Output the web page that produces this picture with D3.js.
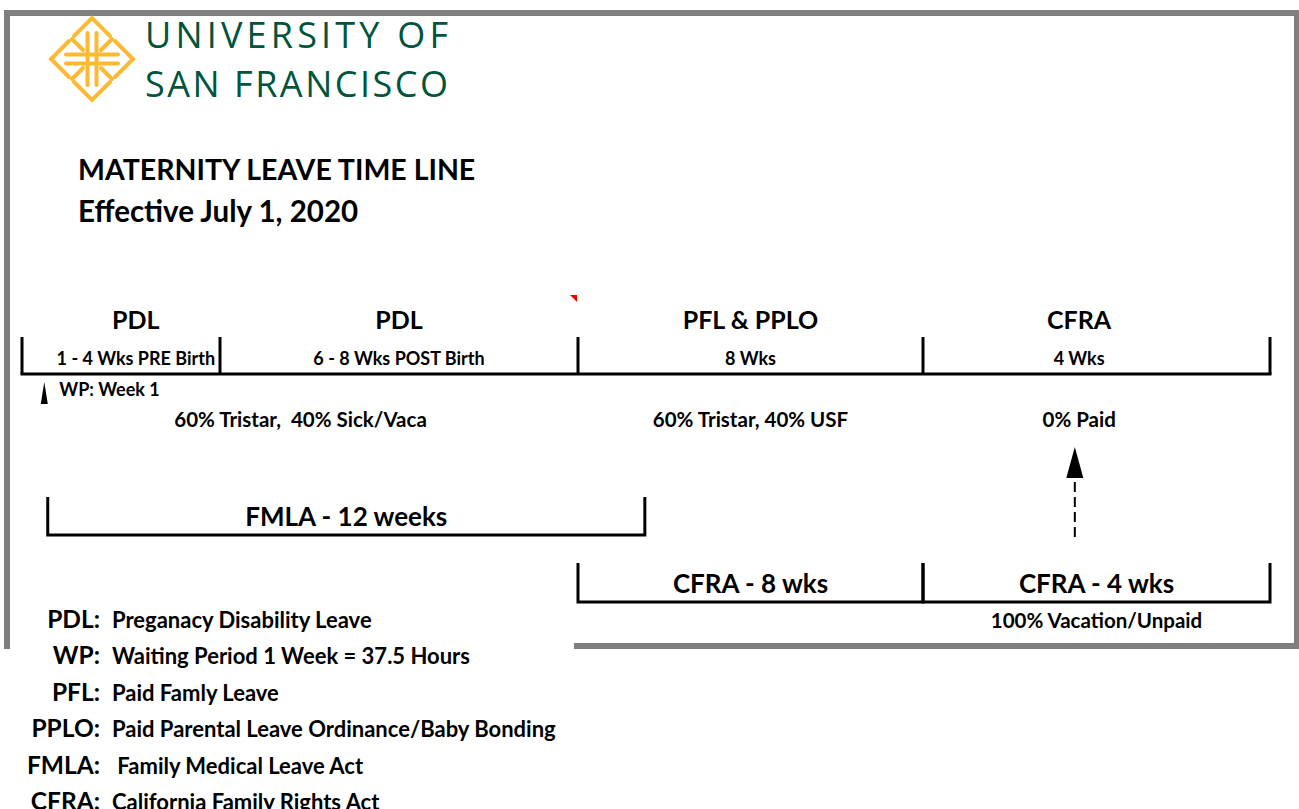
<!DOCTYPE html>
<html>
<head>
<meta charset="utf-8">
<script src="https://cdn.jsdelivr.net/npm/d3@7"></script>
<style>
  html, body { margin: 0; padding: 0; background: #fff; }
  svg { display: block; }
  text { font-family: Lato, "Open Sans", sans-serif; font-weight: 700; fill: #000; }
</style>
</head>
<body>
<svg width="1299" height="809"></svg>
<script>
// timeline data, in weeks from the start of leave
var breakWeeks = [0, 4, 12, 20, 24];
var segmentNames = ['PDL', 'PDL', 'PFL & PPLO', 'CFRA'];
var segmentSpans = ['1 - 4 Wks PRE Birth', '6 - 8 Wks POST Birth', '8 Wks', '4 Wks'];
var segmentLabelAt = [2.3, 8, 16, 21.8];
var payLabels = ['60% Tristar,  40% Sick/Vaca', '60% Tristar, 40% USF', '0% Paid'];
var payLabelAt = [5.8, 16, 21.8];
var waitWeek = 0.45;
var fmla = {label: 'FMLA - 12 weeks', from: 0.52, to: 13.55};
var cfraBlocks = [
    {label: 'CFRA - 8 wks', from: 12, to: 20},
    {label: 'CFRA - 4 wks', from: 20, to: 24}
];
var cfraNote = '100% Vacation/Unpaid';
var arrowWeek = 21.75;
var legendAbbr = ['PDL:', 'WP:', 'PFL:', 'PPLO:', 'FMLA:', 'CFRA:'];
var legendText = ['Preganacy Disability Leave', 'Waiting Period 1 Week = 37.5 Hours', 'Paid Famly Leave',
    'Paid Parental Leave Ordinance/Baby Bonding', ' Family Medical Leave Act', 'California Family Rights Act'];

var svg = d3.select('svg');
var x = d3.scaleLinear().domain(breakWeeks).range([22, 220, 578, 923, 1270]);

// grey frame around the sheet
var grey = '#7f7f7f';
svg.append('rect').attr('x', 4).attr('y', 10).attr('width', 1295).attr('height', 6).attr('fill', grey);
svg.append('rect').attr('x', 4).attr('y', 10).attr('width', 6).attr('height', 639).attr('fill', grey);
svg.append('rect').attr('x', 1294).attr('y', 10).attr('width', 5).attr('height', 639).attr('fill', grey);
svg.append('rect').attr('x', 574).attr('y', 643).attr('width', 725).attr('height', 6).attr('fill', grey);

// logo
var gold = '#fbb934';
var logo = svg.append('g').attr('transform', 'translate(92,59)')
    .attr('stroke', gold).attr('stroke-width', 6).attr('stroke-linecap', 'round').attr('fill', 'none');
var R = 41, a = 18;
[[-R, 0], [R, 0], [0, -R], [0, R]].forEach(function(c) {
    var p1 = c[0] === 0 ? [c[0] - a, c[1] - Math.sign(c[1]) * a] : [c[0] - Math.sign(c[0]) * a, c[1] - a];
    var p2 = c[0] === 0 ? [c[0] + a, c[1] - Math.sign(c[1]) * a] : [c[0] - Math.sign(c[0]) * a, c[1] + a];
    logo.append('path').attr('d', d3.line()([p1, c, p2]));
});
logo.attr('stroke-width', 4);
[-4.5, 4.5].forEach(function(o) {
    logo.append('line').attr('x1', -26).attr('x2', 26).attr('y1', o).attr('y2', o);
    logo.append('line').attr('y1', -26).attr('y2', 26).attr('x1', o).attr('x2', o);
});
[[1, 1], [1, -1], [-1, 1], [-1, -1]].forEach(function(s) {
    logo.append('line').attr('x1', s[0] * 9).attr('y1', s[1] * 9).attr('x2', s[0] * 20).attr('y2', s[1] * 20);
});
svg.append('text').attr('x', 145).attr('y', 48).attr('textLength', 303).attr('lengthAdjust', 'spacing')
    .style('font-family', '"Open Sans", sans-serif').style('font-weight', 400).style('font-size', '36px')
    .style('fill', '#00543c').text('UNIVERSITY OF');
svg.append('text').attr('x', 145).attr('y', 97).attr('textLength', 303).attr('lengthAdjust', 'spacing')
    .style('font-family', '"Open Sans", sans-serif').style('font-weight', 400).style('font-size', '36px')
    .style('fill', '#00543c').text('SAN FRANCISCO');

// titles
svg.append('text').attr('x', 78).attr('y', 180).style('font-size', '28.5px').text('MATERNITY LEAVE TIME LINE');
svg.append('text').attr('x', 78).attr('y', 222).style('font-size', '29.5px').text('Effective July 1, 2020');

// comment marker
svg.append('path').attr('d', 'M570,295L577,295L577,302Z').attr('fill', '#e00');

// main time line
var line = svg.append('g').attr('stroke', '#000').attr('stroke-width', 3).attr('fill', 'none');
line.append('line').attr('x1', x(0) - 1.5).attr('x2', x(24) + 1.5).attr('y1', 374).attr('y2', 374);
line.selectAll('.tick').data(breakWeeks).enter().append('line')
    .attr('x1', d => x(d)).attr('x2', d => x(d)).attr('y1', 337).attr('y2', 374);

var segs = d3.range(segmentNames.length);
svg.selectAll('.seg').data(segs).enter().append('text').attr('class', 'seg')
    .attr('x', i => x(segmentLabelAt[i])).attr('y', 329).attr('text-anchor', 'middle')
    .style('font-size', '25px').text(i => segmentNames[i]);
svg.selectAll('.span').data(segs).enter().append('text').attr('class', 'span')
    .attr('x', i => x(segmentLabelAt[i])).attr('y', 365).attr('text-anchor', 'middle')
    .style('font-size', '18px').text(i => segmentSpans[i]);

// waiting period marker
svg.append('path').attr('d', 'M' + (x(waitWeek) - 3.5) + ',404L' + x(waitWeek) + ',382L' + (x(waitWeek) + 3.5) + ',404Z')
    .attr('fill', '#000');
svg.append('text').attr('x', x(waitWeek) + 15).attr('y', 396).style('font-size', '18px').text('WP: Week 1');

svg.selectAll('.pay').data(payLabels).enter().append('text').attr('class', 'pay')
    .attr('x', (d, i) => x(payLabelAt[i])).attr('y', 427).attr('text-anchor', 'middle')
    .style('font-size', '20.5px').style('white-space', 'pre').text(d => d);

// dashed arrow
svg.append('line').attr('x1', x(arrowWeek)).attr('x2', x(arrowWeek)).attr('y1', 537).attr('y2', 476)
    .attr('stroke', '#000').attr('stroke-width', 2).attr('stroke-dasharray', '10,5');
svg.append('path').attr('d', 'M' + (x(arrowWeek) - 8.5) + ',478L' + x(arrowWeek) + ',447L' + (x(arrowWeek) + 8.5) + ',478Z')
    .attr('fill', '#000');

// brackets
function bracket(from, to, top, bottom) {
    line.append('path').attr('d', d3.line()([[x(from), top], [x(from), bottom], [x(to), bottom], [x(to), top]]));
}
bracket(fmla.from, fmla.to, 497, 535);
svg.append('text').attr('x', (x(fmla.from) + x(fmla.to)) / 2).attr('y', 526).attr('text-anchor', 'middle')
    .style('font-size', '26px').text(fmla.label);

cfraBlocks.forEach(function(b) { bracket(b.from, b.to, 563, 602); });
svg.selectAll('.cfra').data(cfraBlocks).enter().append('text').attr('class', 'cfra')
    .attr('x', d => (x(d.from) + x(d.to)) / 2).attr('y', 593).attr('text-anchor', 'middle')
    .style('font-size', '26px').text(d => d.label);
var last = cfraBlocks[cfraBlocks.length - 1];
svg.append('text').attr('x', (x(last.from) + x(last.to)) / 2).attr('y', 628).attr('text-anchor', 'middle')
    .style('font-size', '20.5px').text(cfraNote);

// legend
var legendY = d3.scalePoint().domain(d3.range(legendAbbr.length)).range([628, 810]);
svg.selectAll('.abbr').data(legendAbbr).enter().append('text').attr('class', 'abbr')
    .attr('x', 100).attr('y', (d, i) => legendY(i)).attr('text-anchor', 'end')
    .style('font-size', '24.5px').text(d => d);
svg.selectAll('.desc').data(legendText).enter().append('text').attr('class', 'desc')
    .attr('x', 112).attr('y', (d, i) => legendY(i)).style('font-size', '22px').style('white-space', 'pre')
    .text(d => d);
</script>
</body>
</html>
